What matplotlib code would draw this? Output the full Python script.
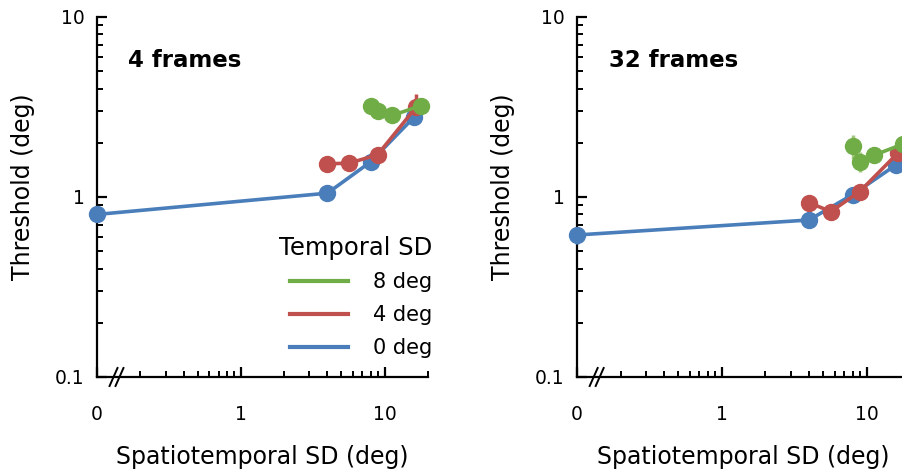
import matplotlib
matplotlib.use("Agg")
from matplotlib import pyplot as plt
from matplotlib.ticker import FixedLocator, LogLocator, NullFormatter, FixedFormatter
import numpy as np

plt.rcParams['font.family'] = ['DejaVu Sans']

# x = spatiotemporal SD (deg); 0 is drawn at the left edge (0.1)
panels = ['4 frames', '32 frames']
temporal_labels = ['0 deg', '4 deg', '8 deg']

x_0deg = [0, 4, 8, 16]
x_4deg = [4, 5.66, 8.94, 16.5]
x_8deg = [8, 8.94, 11.3, 17.9]

# 4 frames
y4_0deg = [0.80, 1.05, 1.57, 2.78]
y4_4deg = [1.53, 1.54, 1.72, 3.15]
y4_8deg = [3.22, 3.0, 2.84, 3.22]
e4_0deg = [0.04, 0.04, 0.05, 0.12]
e4_4deg = [0.05, 0.05, 0.08, 0.60]
e4_8deg = [0.10, 0.08, 0.08, 0.12]

# 32 frames
y32_0deg = [0.615, 0.745, 1.03, 1.51]
y32_4deg = [0.93, 0.83, 1.07, 1.76]
y32_8deg = [1.92, 1.57, 1.71, 1.97]
e32_0deg = [0.065, 0.07, 0.06, 0.06]
e32_4deg = [0.08, 0.04, 0.05, 0.07]
e32_8deg = [0.30, 0.20, 0.06, 0.10]

blue = '#4A7EBB'
red = '#C0504D'
green = '#70AD47'
green_err = '#A3C97E'

fig = plt.figure(figsize=(9.03, 4.72), dpi=100)


def zero_to_edge(xs):
    return [0.1 if v == 0 else v for v in xs]


def draw_panel(ax, title, ys, es, show_legend):
    series = [
        (x_0deg, ys[0], es[0], blue, blue, temporal_labels[0]),
        (x_4deg, ys[1], es[1], red, red, temporal_labels[1]),
        (x_8deg, ys[2], es[2], green, green_err, temporal_labels[2]),
    ]
    handles = []
    for xs, y, e, c, ec, lab in series:
        ax.errorbar(zero_to_edge(xs), y, yerr=e, fmt='none', ecolor=ec,
                    elinewidth=2.5, capsize=0, clip_on=False, zorder=3)
        ln, = ax.plot(zero_to_edge(xs), y, '-o', color=c, lw=2.6, ms=11.5,
                      clip_on=False, zorder=4, label=lab)
        handles.append(ln)

    ax.set_xscale('log')
    ax.set_yscale('log')
    ax.set_xlim(0.1, 20)
    ax.set_ylim(0.1, 10)
    for s in ['top', 'right']:
        ax.spines[s].set_visible(False)
    for s in ['left', 'bottom']:
        ax.spines[s].set_linewidth(1.6)

    ax.xaxis.set_major_locator(FixedLocator([0.1, 1, 10]))
    ax.xaxis.set_major_formatter(FixedFormatter(['0', '1', '10']))
    ax.xaxis.set_minor_locator(FixedLocator([0.2, 0.3, 0.4, 0.5, 0.6, 0.7, 0.8, 0.9,
                                             2, 3, 4, 5, 6, 7, 8, 9, 20]))
    ax.xaxis.set_minor_formatter(NullFormatter())
    ax.yaxis.set_major_locator(FixedLocator([0.1, 1, 10]))
    ax.yaxis.set_major_formatter(FixedFormatter(['0.1', '1', '10']))
    ax.yaxis.set_minor_locator(LogLocator(base=10, subs=np.arange(2, 10)))
    ax.yaxis.set_minor_formatter(NullFormatter())

    ax.tick_params(which='major', direction='in', length=7, width=1.6,
                   labelsize=13.5)
    ax.tick_params(which='minor', direction='in', length=4.5, width=1.4)
    ax.tick_params(axis='x', which='major', pad=20)
    ax.tick_params(axis='y', which='major', pad=9)

    ax.set_xlabel('Spatiotemporal SD (deg)', fontsize=17, labelpad=15)
    ax.set_ylabel('Threshold (deg)', fontsize=17, labelpad=14)
    ax.yaxis.label.set_y(0.53)
    ax.text(0.095, 0.88, title, transform=ax.transAxes, fontsize=16.5,
            fontweight='bold', ha='left', va='center')

    # axis break mark
    tr = ax.transAxes
    for dx in (0.050, 0.068):
        ax.plot([dx - 0.012, dx + 0.012], [-0.025, 0.025], color='black',
                lw=1.4, transform=tr, clip_on=False, zorder=5)

    if show_legend:
        leg = ax.legend(handles[::-1], [h.get_label() for h in handles[::-1]],
                        title='Temporal SD', loc='lower right',
                        bbox_to_anchor=(1.07, 0.0), frameon=False,
                        fontsize=15, title_fontsize=17.5, handlelength=2.8,
                        handletextpad=1.2, labelspacing=0.62)
        for h in leg.get_lines():
            h.set_marker('')
            h.set_linewidth(3)
        leg._legend_box.align = 'right'
        leg._legend_box.sep = 9


ax1 = fig.add_axes([0.1074, 0.2013, 0.3666, 0.7627])
draw_panel(ax1, panels[0], [y4_0deg, y4_4deg, y4_8deg],
           [e4_0deg, e4_4deg, e4_8deg], True)

ax2 = fig.add_axes([0.6390, 0.2013, 0.3690, 0.7627])
draw_panel(ax2, panels[1], [y32_0deg, y32_4deg, y32_8deg],
           [e32_0deg, e32_4deg, e32_8deg], False)

fig.savefig('out.png', dpi=100)
